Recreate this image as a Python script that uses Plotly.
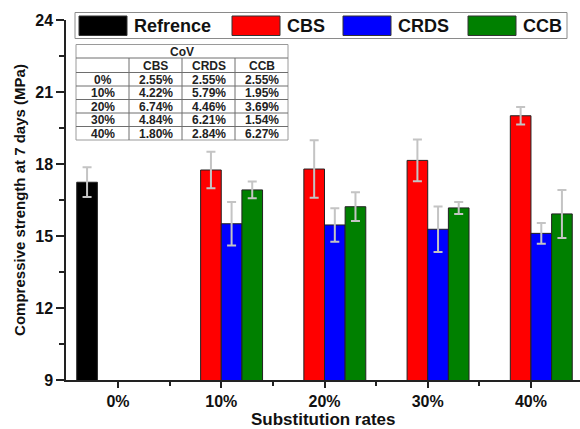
import plotly.graph_objects as go

# Compressive strength at 7 days (MPa) by substitution rate
rates = ["0%", "10%", "20%", "30%", "40%"]
ref_strength = [17.24]
ref_err = [0.62]
cbs_strength = [17.75, 17.79, 18.15, 20.01]
cbs_err = [0.76, 1.20, 0.87, 0.36]
crds_strength = [15.51, 15.46, 15.28, 15.11]
crds_err = [0.91, 0.70, 0.95, 0.43]
ccb_strength = [16.92, 16.22, 16.17, 15.92]
ccb_err = [0.35, 0.60, 0.25, 1.00]
y_ticks = [9, 12, 15, 18, 21, 24]

# Coefficient of variation table
cov_rows = ["0%", "10%", "20%", "30%", "40%"]
cov_cbs = [2.55, 4.22, 6.74, 4.84, 1.80]
cov_crds = [2.55, 5.79, 4.46, 6.21, 2.84]
cov_ccb = [2.55, 1.95, 3.69, 1.54, 6.27]

series_names = ["Refrence", "CBS", "CRDS", "CCB"]
colors = ["#000000", "#ff0000", "#0000ff", "#008000"]

W, H = 580, 429
ML, MR, MT, MB = 66, 0, 20, 49
PW, PH = W - ML - MR, H - MT - MB
FONT = "Liberation Sans, Arial, sans-serif"


def px(x):
    return (x - ML) / PW


def py(y):
    return 1 - (y - MT) / PH


def bold(s):
    return "<b>%s</b>" % s


x_pos = list(range(len(rates)))
err_style = dict(type="data", visible=True, color="#c4c4c4", thickness=2, width=4.5)

fig = go.Figure()
all_series = [
    (x_pos[:1], ref_strength, ref_err),
    (x_pos[1:], cbs_strength, cbs_err),
    (x_pos[1:], crds_strength, crds_err),
    (x_pos[1:], ccb_strength, ccb_err),
]
for name, color, (xs, ys, es) in zip(series_names, colors, all_series):
    fig.add_trace(go.Bar(
        x=xs, y=ys, name=name,
        marker=dict(color=color, line=dict(color="#222222", width=1)),
        error_y=dict(array=es, **err_style),
        showlegend=False,
    ))

shapes = []
annotations = []

# Legend box across the top
shapes.append(dict(type="rect", xref="paper", yref="paper",
                   x0=px(75), x1=px(567), y0=py(38.5), y1=py(12.5),
                   line=dict(color="#8a8a8a", width=1), fillcolor="white", layer="above"))
sw_x = [79, 232, 343, 468]
for name, color, sx in zip(series_names, colors, sw_x):
    shapes.append(dict(type="rect", xref="paper", yref="paper",
                       x0=px(sx), x1=px(sx + 48), y0=py(35.5), y1=py(16),
                       line=dict(color="#333333", width=1), fillcolor=color, layer="above"))
    annotations.append(dict(xref="paper", yref="paper", x=px(sx + 53), y=py(26),
                            text=bold(name), showarrow=False, xanchor="left", yanchor="middle",
                            font=dict(family=FONT, size=18, color="#111111")))

# CoV table
col_x = [76, 129, 182, 235, 288]
row_y = [44.5, 58, 72.5, 86, 99.5, 113, 126.5, 140]
shapes.append(dict(type="rect", xref="paper", yref="paper",
                   x0=px(col_x[0]), x1=px(col_x[-1]), y0=py(row_y[-1]), y1=py(row_y[0]),
                   line=dict(color="#9a9a9a", width=1), fillcolor="white", layer="above"))
for y in row_y[1:-1]:
    shapes.append(dict(type="line", xref="paper", yref="paper",
                       x0=px(col_x[0]), x1=px(col_x[-1]), y0=py(y), y1=py(y),
                       line=dict(color="#6e6e6e", width=1), layer="above"))
for x in col_x[1:-1]:
    shapes.append(dict(type="line", xref="paper", yref="paper",
                       x0=px(x), x1=px(x), y0=py(row_y[1]), y1=py(row_y[-1]),
                       line=dict(color="#6e6e6e", width=1), layer="above"))

tfont = dict(family=FONT, size=12, color="#222222")


def cell(text, ci, ri, span=1):
    xc = (col_x[ci] + col_x[ci + span]) / 2
    yc = (row_y[ri] + row_y[ri + 1]) / 2
    annotations.append(dict(xref="paper", yref="paper", x=px(xc), y=py(yc + 0.5),
                            text=bold(text), showarrow=False,
                            xanchor="center", yanchor="middle", font=tfont))


cell("CoV", 0, 0, span=4)
for ci, h in enumerate(["CBS", "CRDS", "CCB"], start=1):
    cell(h, ci, 1)
for ri, (r, a, b, c) in enumerate(zip(cov_rows, cov_cbs, cov_crds, cov_ccb), start=2):
    cell(r, 0, ri)
    cell("%.2f%%" % a, 1, ri)
    cell("%.2f%%" % b, 2, ri)
    cell("%.2f%%" % c, 3, ri)

# Axis titles
annotations.append(dict(xref="paper", yref="paper", x=px(323), y=py(419),
                        text=bold("Substitution rates"), showarrow=False,
                        xanchor="center", yanchor="middle",
                        font=dict(family=FONT, size=17, color="#111111")))

fig.update_layout(
    width=W, height=H,
    margin=dict(l=ML, r=MR, t=MT, b=MB, pad=0),
    paper_bgcolor="white", plot_bgcolor="white",
    barmode="group", bargap=0.2, bargroupgap=0,
    font=dict(family=FONT, color="#111111"),
    shapes=shapes, annotations=annotations,
)
fig.update_xaxes(
    range=[-0.504, 4.475], tickmode="array", tickvals=x_pos,
    ticktext=[bold(r) for r in rates],
    showline=True, linecolor="#222222", linewidth=1.5, showgrid=False, zeroline=False,
    ticks="outside", ticklen=6, tickwidth=1.5, tickcolor="#222222",
    tickfont=dict(family=FONT, size=16, color="#111111"),
    minor=dict(tickmode="array", tickvals=[0.5, 1.5, 2.5, 3.5], ticks="outside",
               ticklen=4, tickwidth=1.5, tickcolor="#222222"),
)
fig.update_yaxes(
    range=[9, 24], tickmode="array", tickvals=y_ticks,
    ticktext=[bold(v) for v in y_ticks],
    showline=True, linecolor="#222222", linewidth=1.5, showgrid=False, zeroline=False,
    ticks="outside", ticklen=8, tickwidth=1.5, tickcolor="#222222",
    tickfont=dict(family=FONT, size=16, color="#111111"),
    minor=dict(tickmode="array", tickvals=[10.5, 13.5, 16.5, 19.5, 22.5], ticks="outside",
               ticklen=5, tickwidth=1.5, tickcolor="#222222"),
    title=dict(text=bold("Compressive strength at 7 days (MPa)"),
               font=dict(family=FONT, size=15, color="#111111"), standoff=6),
)

fig.write_html("out.html")
